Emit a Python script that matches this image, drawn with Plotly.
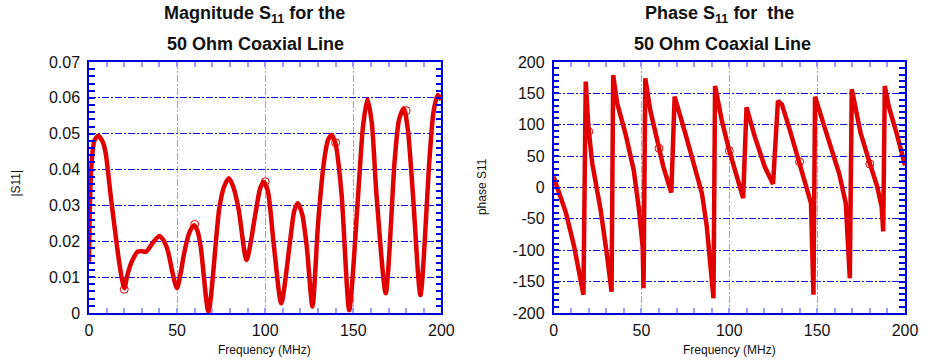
import plotly.graph_objects as go

# ---------------- data ----------------
freq_mag = [0, 0.5, 1.5, 3, 5.2, 8, 9.5, 12.6, 16.4, 18.5, 20.1, 21.5, 23.9, 27.7, 30, 32.4,
            36.1, 39.9, 42, 44.6, 47.5, 49.9, 52, 54, 57, 59.6, 61.5, 63.4, 67.8, 73.8,
            76.5, 79.4, 82, 85, 89.4, 94.8, 97, 99.1, 101.5, 104.8, 109.1, 114.2, 116.5,
            118.5, 121, 123.6, 126.8, 130, 133, 135.5, 137.7, 140, 143.3, 147.7, 152.8,
            155.5, 158, 160.5, 163.1, 168.4, 173.5, 176, 178.7, 181, 183.8, 188.1, 193.2,
            195.5, 197.9, 200]
mag_s11 = [0.0143, 0.030, 0.042, 0.048, 0.0494, 0.0475, 0.0445, 0.0315, 0.0167, 0.010,
           0.0069, 0.010, 0.0139, 0.0171, 0.0172, 0.0171, 0.0195, 0.0215, 0.0205, 0.0176,
           0.011, 0.0069, 0.011, 0.0167, 0.0225, 0.0245, 0.0230, 0.0185, 0.0003, 0.0287,
           0.0350, 0.0376, 0.035, 0.0287, 0.0148, 0.0287, 0.0345, 0.0366, 0.034, 0.0194,
           0.0027, 0.0204, 0.0285, 0.0306, 0.0275, 0.0185, 0.0018, 0.025, 0.0408, 0.048,
           0.0497, 0.047, 0.0334, 0.0008, 0.0334, 0.052, 0.0596, 0.053, 0.0334, 0.0055,
           0.0427, 0.054, 0.0571, 0.051, 0.0334, 0.005, 0.0427, 0.056, 0.0608, 0.0594]

freq_phase = [0, 1.7, 7, 11.7, 17, 18.3, 19.8, 22, 26.8, 30.5, 33, 33.9, 36.2, 40.9, 45.6,
              48.4, 50.7, 51.2, 52.2, 55, 60.1, 62.5, 67, 68.9, 75, 80.6, 84.4, 87.2, 89.1,
              91, 91.9, 95.7, 100, 104.2, 107.9, 109.8, 114.5, 120.2, 124.9, 127.7, 130,
              134.3, 139.6, 143.7, 146.5, 147.9, 148.8, 155.9, 162.5, 166.3, 168.6, 169.7,
              174.8, 180.1, 184.2, 186.7, 187.6, 188.5, 190.8, 195.5, 200]
phase_s11 = [17, 3, -40, -94, -171, 168.7, 97, 38.5, -36, -110, -166, 179, 134, 86, 28,
             -30.6, -94, -160.6, 174, 123.5, 62.5, 33, -8, 144.7, 86, 33, -9, -62, -115.5,
             -176.6, 161.7, 107.6, 58.7, 17, -17, 127.8, 81, 33, 5.6, 138, 132,
             93, 41, 1.3, -25, -171, 144.7, 81, 22.6, -25, -144.7, 156.5,
             86, 37.5, 1.3, -30.6, -70, 161.7, 128.8, 83.7, 35]

freq_mk = [20, 60, 100, 140, 180]
mag_mk = [0.0066, 0.0247, 0.0366, 0.0475, 0.0564]
phase_mk = [89, 62.5, 58.7, 41, 37.5]

mag_ticks = [0, 0.01, 0.02, 0.03, 0.04, 0.05, 0.06, 0.07]
mag_ticktext = ["0", "0.01", "0.02", "0.03", "0.04", "0.05", "0.06", "0.07"]
phase_ticks = [-200, -150, -100, -50, 0, 50, 100, 150, 200]
phase_ticktext = ["-200", "-150", "-100", "-50", "0", "50", "100", "150", "200"]
freq_ticks = [0, 50, 100, 150, 200]

# ---------------- styling ----------------
RED = "#e00000"
FRAME = "#0000dd"
HGRID = "#1010e0"
VGRID = "#9a9aff"
FONT = "Liberation Sans, Arial, Helvetica, sans-serif"

W, H = 930, 362
L, R, T, B = 89, 19, 62, 49
PW = W - L - R
PH = H - T - B


def px(x):
    return (x - L) / PW


def py(y):
    return (H - B - y) / PH


fig = go.Figure()

fig.add_trace(go.Scatter(x=freq_mag, y=mag_s11, mode="lines",
                         line=dict(color=RED, width=4.5, shape="spline", smoothing=0.7),
                         xaxis="x", yaxis="y", showlegend=False))
fig.add_trace(go.Scatter(x=freq_mk, y=mag_mk, mode="markers",
                         marker=dict(symbol="circle-open", size=8, color=RED,
                                     line=dict(width=1, color=RED)),
                         xaxis="x", yaxis="y", showlegend=False))
fig.add_trace(go.Scatter(x=freq_phase, y=phase_s11, mode="lines",
                         line=dict(color=RED, width=4.5),
                         xaxis="x2", yaxis="y2", showlegend=False))
fig.add_trace(go.Scatter(x=freq_mk, y=phase_mk, mode="markers",
                         marker=dict(symbol="circle-open", size=8, color=RED,
                                     line=dict(width=1, color=RED)),
                         xaxis="x2", yaxis="y2", showlegend=False))

dash = "7px,2px,2px,2px"


def xaxis(domain, anchor):
    return dict(domain=domain, anchor=anchor, range=[0, 200], tickvals=freq_ticks,
                showline=True, linecolor=FRAME, linewidth=1.5, mirror="allticks",
                ticks="inside", ticklen=5, tickcolor=VGRID, tickwidth=1.5,
                showgrid=True, gridcolor=VGRID, gridwidth=1, griddash=dash,
                zeroline=False, tickfont=dict(family=FONT, size=16, color="#111"),
                minor=dict(dtick=10, ticks="inside", ticklen=5, tickcolor=VGRID,
                           tickwidth=1.5, showgrid=False),
                ticklabelstandoff=2)


def yaxis(domain, anchor, rng, tv, tt, mdt):
    return dict(domain=domain, anchor=anchor, range=rng, tickvals=tv, ticktext=tt,
                showline=True, linecolor=FRAME, linewidth=1.5, mirror="allticks",
                ticks="inside", ticklen=6, tickcolor=FRAME, tickwidth=1.5,
                showgrid=True, gridcolor=HGRID, gridwidth=1, griddash=dash,
                zeroline=False, tickfont=dict(family=FONT, size=16, color="#111"),
                minor=dict(dtick=mdt, ticks="inside", ticklen=6, tickcolor=FRAME,
                           tickwidth=1.5, showgrid=False),
                ticklabelstandoff=4)


fig.update_layout(
    width=W, height=H,
    margin=dict(l=L, r=R, t=T, b=B),
    paper_bgcolor="white", plot_bgcolor="white",
    xaxis=xaxis([0, px(444)], "y"),
    yaxis=yaxis([0, 1], "x", [0, 0.07], mag_ticks, mag_ticktext, 0.002),
    xaxis2=xaxis([px(557), 1], "y2"),
    yaxis2=yaxis([0, 1], "x2", [-200, 200], phase_ticks, phase_ticktext, 10),
    font=dict(family=FONT, color="#111"),
)

tfont = dict(family=FONT, size=18, color="#111")
afont = dict(family=FONT, size=12, color="#111")
ann = [
    dict(text="<b>Magnitude S<sub>11</sub> for the</b>", x=px(256), y=py(15), font=tfont),
    dict(text="<b>50 Ohm Coaxial Line</b>", x=px(257), y=py(44), font=tfont),
    dict(text="<b>Phase S<sub>11</sub> for  the</b>", x=px(724), y=py(15), font=tfont),
    dict(text="<b>50 Ohm Coaxial Line</b>", x=px(727), y=py(44), font=tfont),
    dict(text="Frequency (MHz)", x=px(266), y=py(349.5), font=afont),
    dict(text="Frequency (MHz)", x=px(734), y=py(349.5), font=afont),
    dict(text="|S11|", x=px(15), y=py(183), font=afont, textangle=-90),
    dict(text="phase S11", x=px(485), y=py(187), font=afont, textangle=-90),
]
for a in ann:
    a.update(xref="paper", yref="paper", showarrow=False, xanchor="center", yanchor="middle")
fig.update_layout(annotations=ann)

fig.write_html("out.html")
